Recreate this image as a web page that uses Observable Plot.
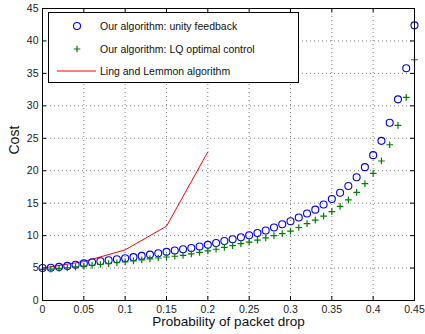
<!DOCTYPE html>
<html>
<head>
<meta charset="utf-8">
<script src="https://cdn.jsdelivr.net/npm/d3@7"></script>
<script src="https://cdn.jsdelivr.net/npm/@observablehq/plot@0.6"></script>
<style>
  html, body { margin: 0; padding: 0; background: white; }
  #wrap { position: relative; width: 425px; height: 334px; font-family: "Liberation Sans", Arial, sans-serif; }
  #legend { position: absolute; left: 48px; top: 12px; width: 251px; height: 71px; border: 1.5px solid #000; background: #fff; box-sizing: border-box; font-size: 10.5px; color: #111; }
  .row { position: absolute; left: 0; height: 14px; width: 100%; }
  .row svg { position: absolute; left: 0; top: 0; }
  .row span { position: absolute; left: 51px; top: 0; line-height: 14px; white-space: nowrap; }
</style>
</head>
<body>
<div id="wrap"></div>
<script>
const probability = [0, 0.01, 0.02, 0.03, 0.04, 0.05, 0.06, 0.07, 0.08, 0.09,
  0.10, 0.11, 0.12, 0.13, 0.14, 0.15, 0.16, 0.17, 0.18, 0.19,
  0.20, 0.21, 0.22, 0.23, 0.24, 0.25, 0.26, 0.27, 0.28, 0.29,
  0.30, 0.31, 0.32, 0.33, 0.34, 0.35, 0.36, 0.37, 0.38, 0.39,
  0.40, 0.41, 0.42, 0.43, 0.44, 0.45];
const unityCost = [5.0, 5.05, 5.18, 5.33, 5.52, 5.72, 5.9, 6.05, 6.2, 6.36,
  6.52, 6.68, 6.87, 7.07, 7.28, 7.5, 7.7, 7.9, 8.1, 8.32,
  8.58, 8.87, 9.17, 9.45, 9.75, 10.05, 10.4, 10.78, 11.25, 11.75,
  12.22, 12.8, 13.4, 14.0, 14.8, 15.65, 16.6, 17.65, 19.0, 20.55,
  22.4, 24.6, 27.4, 31.0, 35.8, 42.4];
const lqCost = [4.8, 4.85, 4.95, 5.05, 5.17, 5.3, 5.42, 5.55, 5.68, 5.82,
  5.96, 6.1, 6.25, 6.4, 6.55, 6.7, 6.82, 6.95, 7.18, 7.42,
  7.65, 7.9, 8.18, 8.45, 8.75, 9.0, 9.3, 9.65, 10.0, 10.3,
  10.7, 11.25, 11.85, 12.4, 13.0, 13.7, 14.5, 15.5, 16.65, 18.0,
  19.6, 21.5, 24.0, 27.0, 31.3, 37.1];
const lingProbability = [0, 0.05, 0.10, 0.15, 0.20];
const lingCost = [5.0, 6.0, 7.8, 11.45, 22.9];
const xTicks = [0, 0.05, 0.1, 0.15, 0.2, 0.25, 0.3, 0.35, 0.4, 0.45];
const yTicks = [0, 5, 10, 15, 20, 25, 30, 35, 40, 45];
const legendLabels = ["Our algorithm: unity feedback", "Our algorithm: LQ optimal control", "Ling and Lemmon algorithm"];

const W = 425, H = 334, mL = 42, mR = 11, mT = 8, mB = 34;
const pw = W - mL - mR, ph = H - mT - mB;

const unity = probability.map((p, i) => ({p, c: unityCost[i]}));
const lq = probability.map((p, i) => ({p, c: lqCost[i]}));
const ling = lingProbability.map((p, i) => ({p, c: lingCost[i]}));
const gridX = xTicks.slice(1, -1), gridY = yTicks.slice(1, -1);

const chart = Plot.plot({
  width: W, height: H,
  marginLeft: mL, marginRight: mR, marginTop: mT, marginBottom: mB,
  style: {fontFamily: '"Liberation Sans", Arial, sans-serif', fontSize: "10.5px", background: "white", color: "#222"},
  x: {domain: [0, 0.45]},
  y: {domain: [0, 45]},
  marks: [
    Plot.ruleX(gridX, {x: d => d, stroke: "#000", strokeOpacity: 0.5, strokeDasharray: "1,3"}),
    Plot.ruleY(gridY, {y: d => d, stroke: "#000", strokeOpacity: 0.5, strokeDasharray: "1,3"}),
    Plot.tickX(xTicks, {x: d => d, insetTop: ph - 4, stroke: "#000"}),
    Plot.tickX(xTicks, {x: d => d, insetBottom: ph - 4, stroke: "#000"}),
    Plot.tickY(yTicks, {y: d => d, insetRight: pw - 4, stroke: "#000"}),
    Plot.tickY(yTicks, {y: d => d, insetLeft: pw - 4, stroke: "#000"}),
    Plot.axisX(xTicks, {tickSize: 0, tickPadding: 5, tickFormat: d => String(d), label: null}),
    Plot.axisY(yTicks, {tickSize: 0, tickPadding: 4, tickFormat: d => String(d), label: null}),
    Plot.text(["Probability of packet drop"], {frameAnchor: "bottom", dy: 25.5, fontSize: 13.5, fill: "#111"}),
    Plot.text(["Cost"], {frameAnchor: "left", rotate: -90, dx: -28, fontSize: 14, fill: "#111"}),
    Plot.line(ling, {x: "p", y: "c", stroke: "#ff0000", strokeWidth: 1}),
    Plot.dot(unity, {x: "p", y: "c", r: 3.5, stroke: "#0000ff", strokeWidth: 1.1, fill: "none"}),
    Plot.dot(lq, {x: "p", y: "c", r: 2.3, symbol: "plus", stroke: "#008000", strokeWidth: 1.2}),
    Plot.frame({stroke: "#000", strokeWidth: 1})
  ]
});

const wrap = document.getElementById("wrap");
wrap.appendChild(chart);

const legend = document.createElement("div");
legend.id = "legend";
const symbols = [
  '<svg width="50" height="14"><circle cx="28" cy="7" r="3.5" fill="none" stroke="#0000ff" stroke-width="1.1"/></svg>',
  '<svg width="50" height="14"><path d="M24.7,7H31.3M28,3.7V10.3" stroke="#008000" stroke-width="1.2"/></svg>',
  '<svg width="50" height="14"><path d="M8,7H47" stroke="#ff0000" stroke-width="1"/></svg>'
];
const rowTops = [6, 28.5, 51];
legendLabels.forEach((label, i) => {
  const row = document.createElement("div");
  row.className = "row";
  row.style.top = rowTops[i] + "px";
  row.innerHTML = symbols[i] + "<span>" + label + "</span>";
  legend.appendChild(row);
});
wrap.appendChild(legend);
</script>
</body>
</html>
